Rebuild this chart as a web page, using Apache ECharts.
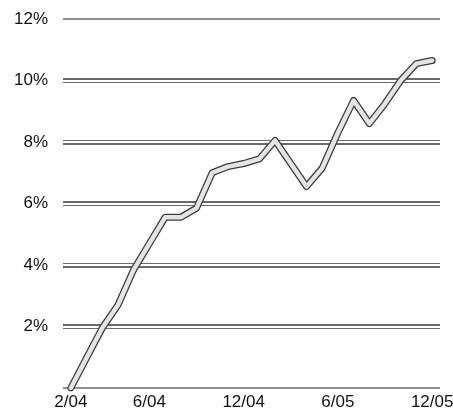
<!DOCTYPE html>
<html>
<head>
<meta charset="utf-8">
<script src="https://cdn.jsdelivr.net/npm/echarts@6/dist/echarts.min.js"></script>
<style>html,body{margin:0;padding:0;background:#fff}#c{width:453px;height:414px}</style>
</head>
<body>
<div id="c"></div>
<script>
// Monthly points; only some carry a tick label
const months = ['2/04','','','','','6/04','','','','','','12/04','','','','','','6/05','','','','','','12/05'];
const values = [0, 0.98, 1.95, 2.7, 3.85, 4.7, 5.55, 5.55, 5.85, 7.0, 7.2, 7.3, 7.45, 8.05, 7.3, 6.55, 7.15, 8.3, 9.35, 8.6, 9.25, 10.0, 10.55, 10.65];
const yTicks = [0, 2, 4, 6, 8, 10, 12];

const chart = echarts.init(document.getElementById('c'));
const font = 'Liberation Sans, Arial, sans-serif';
const T = 'rgba(0,0,0,0)';
function yAx(show, lineStyle) {
  return {
    type: 'value', min: 0, max: 12, interval: 2,
    axisLine: {show: false}, axisTick: {show: false},
    axisLabel: show ? {
      formatter: v => yTicks.includes(v) && v > 0 ? v + '%' : '',
      color: '#111', fontSize: 17, fontFamily: font, margin: 15
    } : {show: false},
    splitLine: {lineStyle: lineStyle}
  };
}
chart.setOption({
  animation: false,
  backgroundColor: '#fff',
  grid: {left: 63, right: 13, top: 19, bottom: 26, containLabel: false, outerBoundsMode: 'none'},
  xAxis: {
    type: 'category', data: months, boundaryGap: true,
    axisLine: {show: false}, axisTick: {show: false},
    axisLabel: {
      interval: (i, v) => v !== '',
      color: '#111', fontSize: 17, fontFamily: font, margin: 6
    }
  },
  yAxis: [
    yAx(true, {color: '#6a6a6a', width: 1.5}),
    yAx(false, {color: [T, '#6a6a6a', '#6a6a6a', '#6a6a6a', '#6a6a6a', '#6a6a6a', T], width: 5}),
    yAx(false, {color: [T, '#fff', '#fff', '#fff', '#fff', '#fff', T], width: 2})
  ],
  series: [
    {
      type: 'line', data: values, yAxisIndex: 0, symbol: 'none', smooth: false,
      lineStyle: {color: '#3a3a3a', width: 7, cap: 'round', join: 'round'}, z: 2
    },
    {
      type: 'line', data: values, yAxisIndex: 0, symbol: 'none', smooth: false,
      lineStyle: {color: '#e4e4e4', width: 4.5, cap: 'round', join: 'round'}, z: 3
    }
  ]
});
</script>
</body>
</html>
